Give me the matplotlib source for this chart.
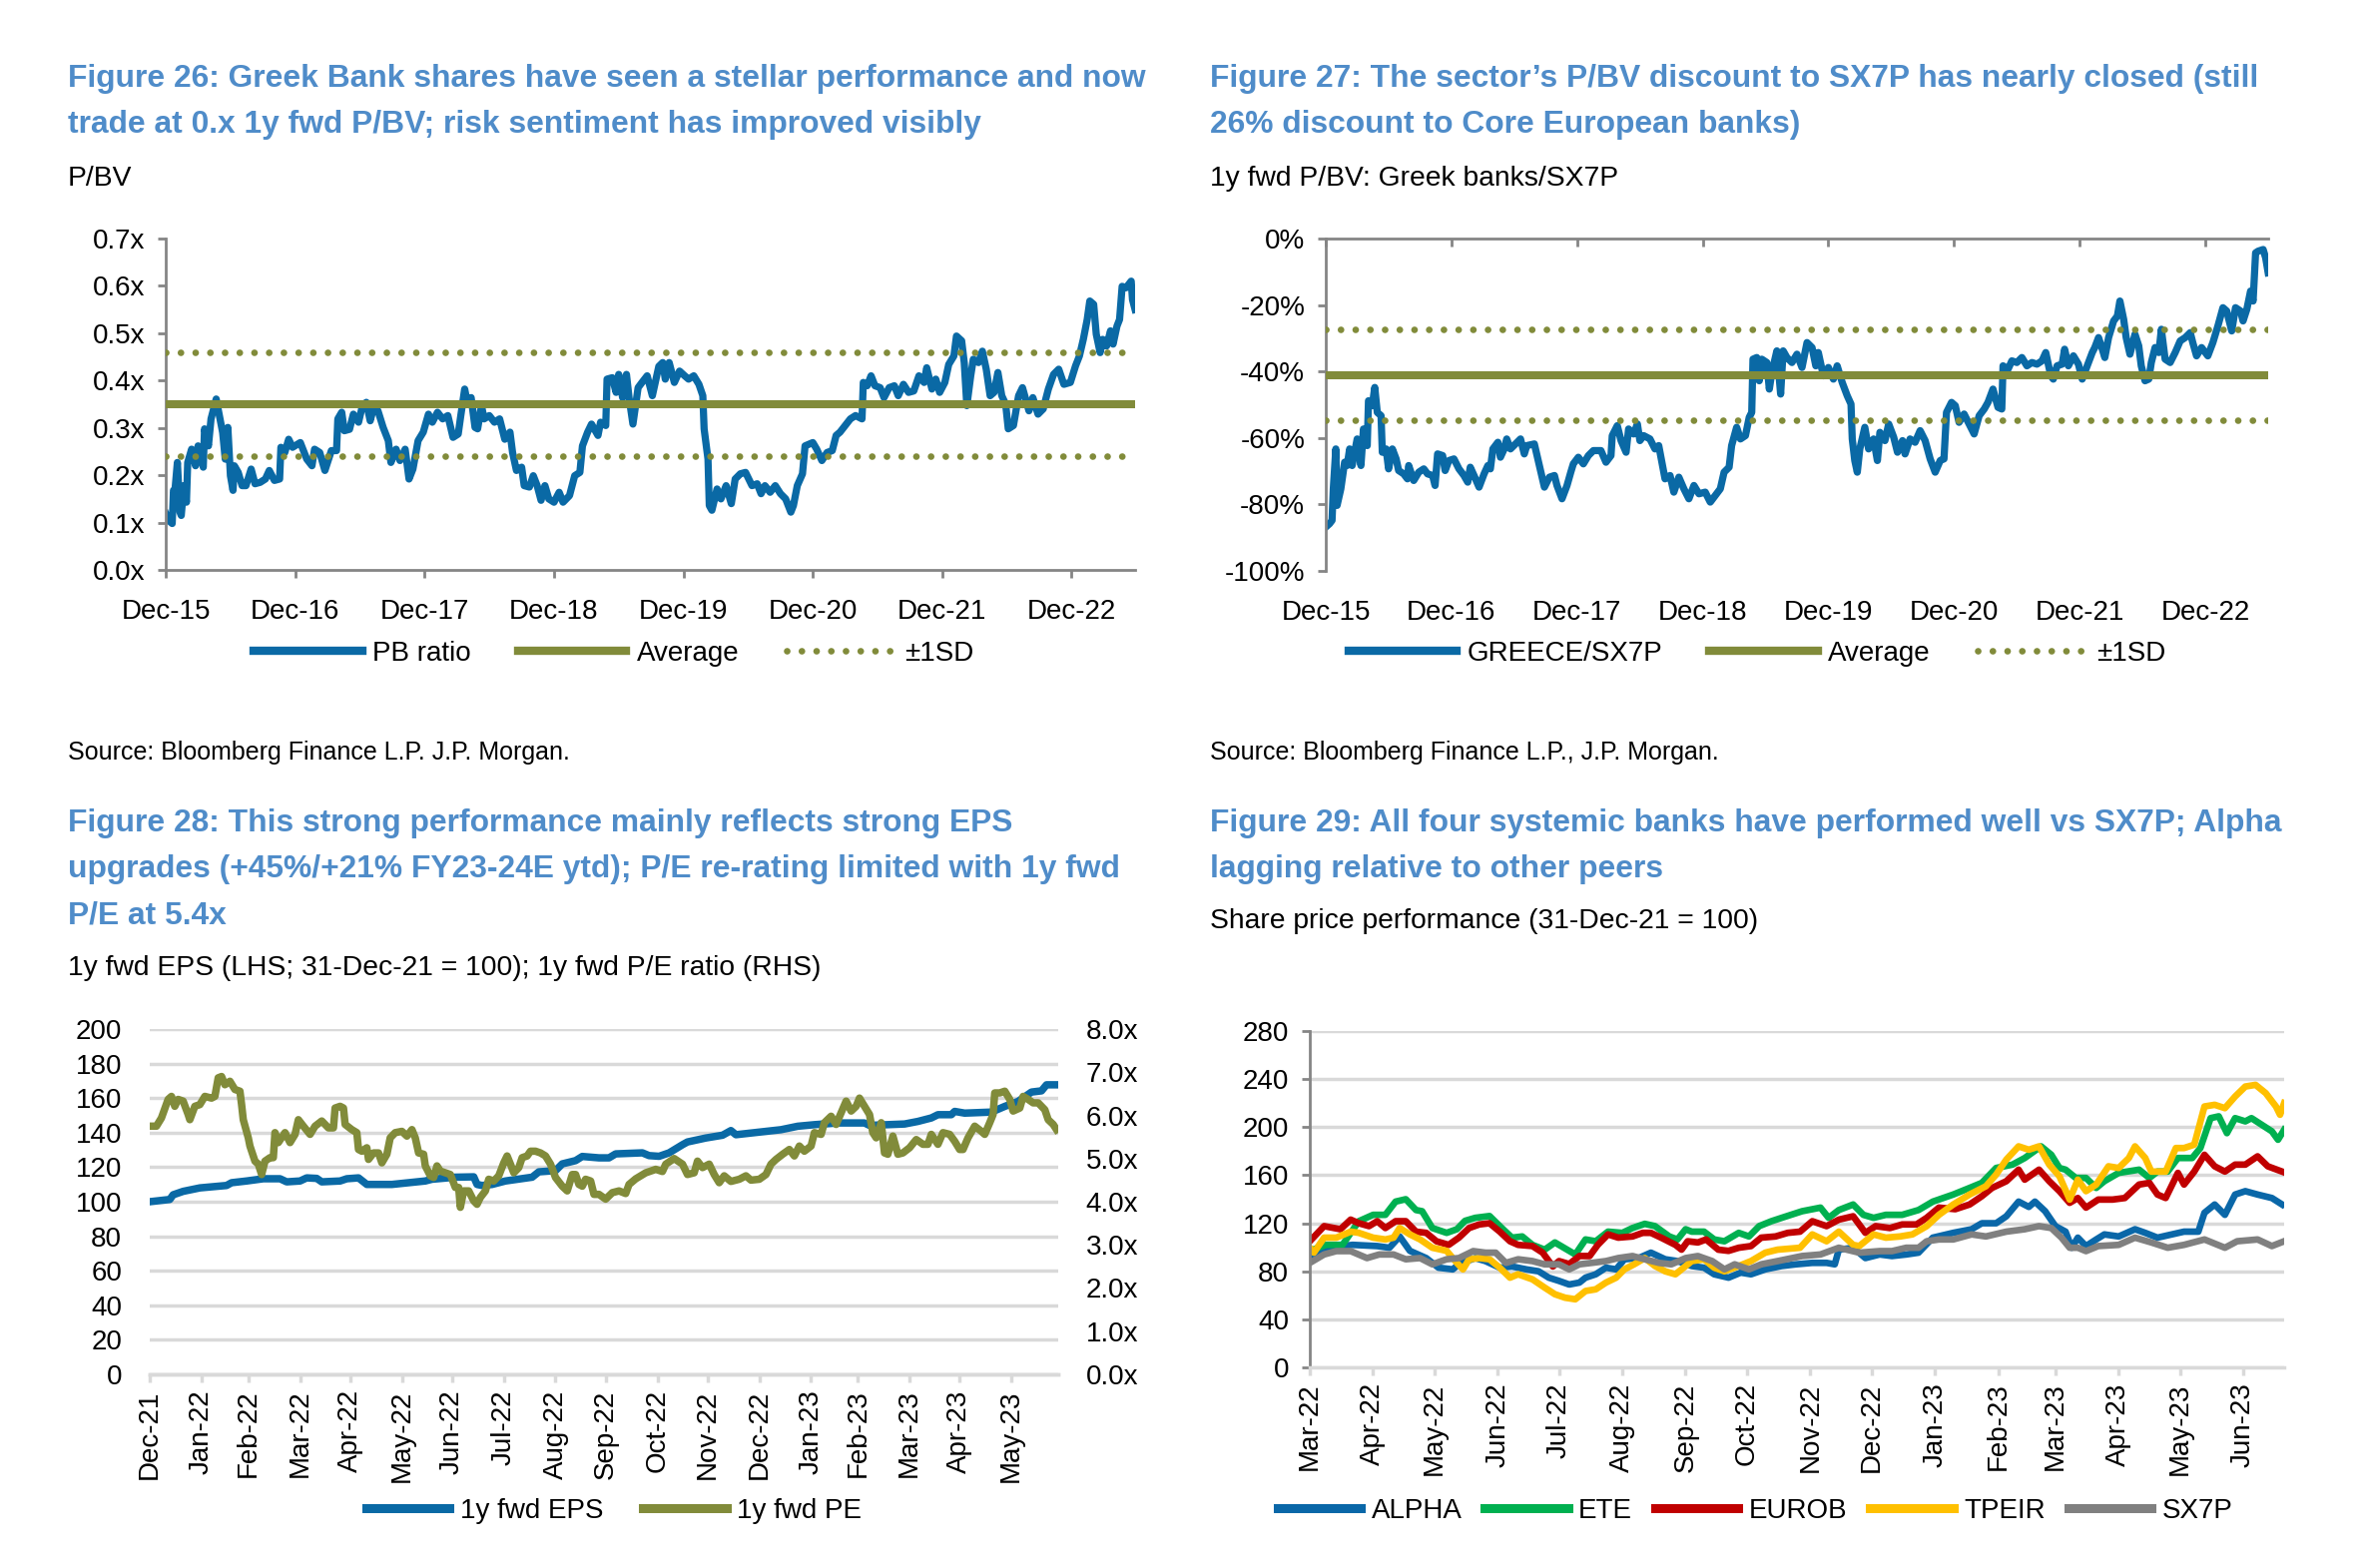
import numpy as np
import matplotlib
matplotlib.use("Agg")
import matplotlib.pyplot as plt
from matplotlib.lines import Line2D

plt.rcParams['font.family'] = ['Liberation Sans', 'DejaVu Sans']

BLUE = '#0a69a5'
OLIVE = '#818b3a'
TITLE_BLUE = '#4f8cc9'
AXIS_GREY = '#858585'
GRID_GREY = '#d9d9d9'

# ---------------- data ----------------
# Fig 26: 1y fwd P/BV of Greek banks (decimal year, P/BV)
pb_ratio = [
    (2015.92, .119), (2015.94, .105), (2015.97, .098), (2015.98, .168), (2015.99, .164), (2016.01, .227),
    (2016.03, .122), (2016.04, .115), (2016.06, .178), (2016.08, .143), (2016.09, .227), (2016.12, .255),
    (2016.15, .22), (2016.17, .262), (2016.21, .217), (2016.22, .298), (2016.25, .262), (2016.27, .319),
    (2016.31, .361), (2016.34, .319), (2016.36, .29), (2016.38, .234), (2016.40, .301), (2016.42, .199),
    (2016.44, .168), (2016.45, .22), (2016.48, .206), (2016.51, .178), (2016.54, .178), (2016.58, .213),
    (2016.61, .182), (2016.65, .185), (2016.69, .192), (2016.72, .21), (2016.76, .189), (2016.80, .192),
    (2016.81, .259), (2016.84, .248), (2016.87, .276), (2016.90, .259), (2016.96, .269), (2017.01, .234),
    (2017.05, .22), (2017.07, .255), (2017.11, .248), (2017.15, .21), (2017.20, .252), (2017.24, .252),
    (2017.25, .319), (2017.28, .333), (2017.30, .294), (2017.34, .297), (2017.37, .329), (2017.41, .312),
    (2017.44, .347), (2017.47, .354), (2017.50, .315), (2017.52, .336), (2017.56, .336), (2017.60, .301),
    (2017.64, .273), (2017.66, .227), (2017.70, .255), (2017.73, .231), (2017.77, .255), (2017.80, .192),
    (2017.83, .213), (2017.87, .273), (2017.91, .291), (2017.95, .329), (2017.98, .312), (2018.02, .333),
    (2018.06, .319), (2018.10, .326), (2018.14, .280), (2018.18, .287), (2018.20, .326), (2018.23, .382),
    (2018.25, .354), (2018.28, .364), (2018.31, .301), (2018.33, .298), (2018.36, .347), (2018.38, .319),
    (2018.42, .326), (2018.46, .312), (2018.50, .319), (2018.54, .276), (2018.58, .291), (2018.60, .248),
    (2018.63, .21), (2018.67, .217), (2018.69, .178), (2018.73, .175), (2018.76, .199), (2018.79, .178),
    (2018.82, .147), (2018.85, .178), (2018.88, .150), (2018.92, .143), (2018.96, .164), (2018.99, .143),
    (2019.04, .157), (2019.08, .199), (2019.12, .206), (2019.14, .262), (2019.18, .291), (2019.21, .308),
    (2019.26, .284), (2019.28, .312), (2019.32, .305), (2019.33, .403), (2019.37, .406), (2019.40, .375),
    (2019.42, .413), (2019.45, .364), (2019.48, .413), (2019.50, .364), (2019.53, .308), (2019.57, .385),
    (2019.60, .396), (2019.64, .41), (2019.68, .368), (2019.73, .43), (2019.76, .438), (2019.78, .403),
    (2019.81, .438), (2019.85, .396), (2019.89, .42), (2019.93, .41), (2019.96, .403), (2020.00, .41),
    (2020.04, .392), (2020.07, .368), (2020.08, .298), (2020.11, .234), (2020.12, .136), (2020.14, .126),
    (2020.18, .171), (2020.21, .150), (2020.25, .178), (2020.29, .140), (2020.32, .192), (2020.36, .203),
    (2020.40, .206), (2020.45, .178), (2020.49, .182), (2020.52, .161), (2020.55, .178), (2020.59, .164),
    (2020.63, .178), (2020.67, .161), (2020.71, .150), (2020.75, .122), (2020.77, .136), (2020.80, .178),
    (2020.84, .203), (2020.86, .262), (2020.92, .269), (2020.95, .255), (2020.99, .231), (2021.03, .248),
    (2021.07, .252), (2021.10, .284), (2021.13, .291), (2021.17, .305), (2021.21, .319), (2021.25, .326),
    (2021.30, .319), (2021.31, .396), (2021.34, .389), (2021.37, .41), (2021.40, .389), (2021.44, .385),
    (2021.47, .364), (2021.51, .385), (2021.55, .389), (2021.58, .368), (2021.62, .392), (2021.66, .375),
    (2021.70, .378), (2021.74, .41), (2021.78, .396), (2021.80, .427), (2021.84, .382), (2021.87, .403),
    (2021.90, .375), (2021.94, .396), (2021.97, .434), (2022.01, .452), (2022.03, .494), (2022.07, .484),
    (2022.09, .438), (2022.11, .347), (2022.14, .41), (2022.16, .445), (2022.20, .438), (2022.23, .462),
    (2022.26, .424), (2022.29, .368), (2022.32, .375), (2022.35, .417), (2022.38, .368), (2022.41, .35),
    (2022.43, .298), (2022.47, .305), (2022.51, .368), (2022.54, .385), (2022.59, .336), (2022.62, .364),
    (2022.66, .329), (2022.70, .34), (2022.74, .382), (2022.78, .413), (2022.82, .424), (2022.86, .392),
    (2022.91, .396), (2022.95, .431), (2022.98, .452), (2023.01, .487), (2023.04, .529), (2023.06, .568),
    (2023.09, .561), (2023.11, .498), (2023.14, .459), (2023.16, .487), (2023.19, .473), (2023.22, .505),
    (2023.24, .477), (2023.27, .515), (2023.29, .529), (2023.31, .599), (2023.34, .596), (2023.38, .61),
    (2023.39, .571), (2023.41, .55),
]
pb_avg, pb_sd = 0.35, 0.11

# Fig 27: Greek banks / SX7P P/BV discount (decimal year, %)
greece_sx7p = [
    (2015.92, -86.8), (2015.95, -85.8), (2015.97, -84.8), (2015.98, -75.3), (2016.00, -63.3), (2016.01, -80.3),
    (2016.04, -75.3), (2016.07, -67.3), (2016.09, -68.3), (2016.11, -63.3), (2016.13, -68.3), (2016.17, -60.3),
    (2016.20, -68.3), (2016.22, -57.3), (2016.25, -62.3), (2016.26, -48.8), (2016.29, -50.3), (2016.31, -44.8),
    (2016.33, -52.3), (2016.36, -53.3), (2016.37, -64.3), (2016.40, -63.3), (2016.42, -69.3), (2016.45, -63.3),
    (2016.48, -66.3), (2016.50, -69.8), (2016.54, -70.8), (2016.57, -72.3), (2016.58, -68.3), (2016.62, -72.8),
    (2016.66, -70.3), (2016.70, -69.3), (2016.73, -70.8), (2016.77, -71.3), (2016.79, -74.3), (2016.81, -64.8),
    (2016.85, -65.3), (2016.87, -69.8), (2016.90, -66.8), (2016.94, -66.3), (2016.98, -69.3), (2017.02, -71.3),
    (2017.05, -73.3), (2017.07, -68.8), (2017.10, -71.3), (2017.14, -74.8), (2017.18, -70.8), (2017.21, -68.3),
    (2017.23, -69.3), (2017.25, -63.3), (2017.29, -61.3), (2017.31, -65.8), (2017.34, -63.3), (2017.36, -60.3),
    (2017.39, -63.3), (2017.43, -61.8), (2017.47, -60.3), (2017.50, -64.8), (2017.52, -62.3), (2017.58, -61.8),
    (2017.62, -68.3), (2017.66, -74.8), (2017.70, -71.8), (2017.74, -71.3), (2017.76, -74.3), (2017.80, -78.3),
    (2017.84, -74.3), (2017.87, -70.3), (2017.89, -67.8), (2017.93, -65.8), (2017.97, -67.8), (2018.01, -65.3),
    (2018.05, -63.8), (2018.11, -63.8), (2018.15, -67.3), (2018.19, -65.3), (2018.20, -59.3), (2018.24, -56.3),
    (2018.27, -60.8), (2018.31, -64.3), (2018.33, -57.3), (2018.37, -58.8), (2018.40, -55.8), (2018.42, -60.8),
    (2018.45, -59.3), (2018.50, -60.3), (2018.54, -63.3), (2018.57, -62.3), (2018.60, -68.3), (2018.62, -72.3),
    (2018.66, -71.3), (2018.69, -76.3), (2018.73, -71.8), (2018.77, -75.3), (2018.81, -78.3), (2018.85, -74.3),
    (2018.89, -76.8), (2018.94, -76.3), (2018.98, -79.3), (2019.02, -77.3), (2019.06, -75.3), (2019.09, -70.3),
    (2019.13, -68.8), (2019.15, -62.3), (2019.19, -56.8), (2019.22, -60.3), (2019.26, -59.3), (2019.29, -53.8),
    (2019.31, -52.3), (2019.32, -36.3), (2019.35, -35.8), (2019.37, -42.8), (2019.39, -36.3), (2019.43, -37.3),
    (2019.45, -45.3), (2019.47, -40.3), (2019.51, -33.8), (2019.54, -46.8), (2019.56, -33.8), (2019.59, -35.8),
    (2019.63, -37.3), (2019.67, -34.8), (2019.71, -38.8), (2019.75, -31.3), (2019.79, -32.8), (2019.82, -38.3),
    (2019.84, -34.3), (2019.88, -41.3), (2019.92, -38.8), (2019.96, -42.3), (2019.99, -38.3), (2020.03, -43.3),
    (2020.07, -47.3), (2020.10, -49.8), (2020.11, -60.3), (2020.13, -66.8), (2020.15, -70.3), (2020.17, -63.3),
    (2020.21, -56.8), (2020.24, -63.3), (2020.28, -60.3), (2020.31, -66.8), (2020.33, -58.3), (2020.37, -60.8),
    (2020.40, -55.8), (2020.44, -59.8), (2020.47, -64.3), (2020.51, -60.8), (2020.53, -64.8), (2020.57, -60.3),
    (2020.61, -61.3), (2020.65, -57.8), (2020.69, -60.8), (2020.73, -66.3), (2020.77, -70.3), (2020.81, -66.8),
    (2020.84, -66.3), (2020.86, -52.3), (2020.90, -49.3), (2020.93, -50.3), (2020.96, -55.3), (2021.00, -52.8),
    (2021.04, -55.8), (2021.08, -58.8), (2021.12, -53.3), (2021.16, -51.3), (2021.19, -49.3), (2021.23, -45.3),
    (2021.27, -50.8), (2021.30, -51.3), (2021.31, -38.3), (2021.35, -39.3), (2021.38, -36.8), (2021.42, -37.3),
    (2021.46, -35.8), (2021.50, -38.3), (2021.54, -37.3), (2021.58, -37.8), (2021.62, -36.8), (2021.65, -34.3),
    (2021.69, -41.3), (2021.71, -42.3), (2021.74, -38.3), (2021.78, -37.8), (2021.80, -33.3), (2021.83, -38.3),
    (2021.87, -35.3), (2021.91, -37.8), (2021.94, -42.3), (2021.98, -38.3), (2022.02, -34.3), (2022.04, -32.8),
    (2022.07, -29.8), (2022.10, -33.3), (2022.12, -35.8), (2022.15, -29.8), (2022.19, -24.8), (2022.22, -23.3),
    (2022.24, -18.8), (2022.27, -24.3), (2022.29, -29.8), (2022.32, -34.8), (2022.36, -28.8), (2022.39, -32.3),
    (2022.41, -38.3), (2022.44, -42.8), (2022.47, -42.3), (2022.49, -37.3), (2022.52, -32.8), (2022.55, -34.3),
    (2022.57, -27.3), (2022.60, -36.3), (2022.64, -37.3), (2022.68, -34.3), (2022.72, -30.8), (2022.76, -29.8),
    (2022.80, -28.3), (2022.82, -31.3), (2022.85, -35.3), (2022.89, -32.8), (2022.94, -35.3), (2022.98, -31.3),
    (2023.02, -26.3), (2023.06, -20.8), (2023.09, -21.8), (2023.13, -27.8), (2023.16, -20.8), (2023.20, -21.8),
    (2023.22, -24.8), (2023.25, -21.3), (2023.28, -15.8), (2023.30, -18.8), (2023.32, -4.3), (2023.34, -3.8),
    (2023.38, -3.3), (2023.40, -5.8), (2023.42, -10.3),
]
gr_avg, gr_sd = -41.0, 13.8

year_labels = ['Dec-15', 'Dec-16', 'Dec-17', 'Dec-18', 'Dec-19', 'Dec-20', 'Dec-21', 'Dec-22']

# Fig 28: (days after 31-Dec-21, value)
fwd_eps = [
    (0, 100), (12, 101.3), (14, 104), (20, 106), (30, 108), (46, 109.4), (49, 111), (58, 112), (68, 113.3),
    (78, 113.3), (82, 111.5), (90, 112), (94, 113.8), (100, 113.5), (103, 111.5), (114, 112), (118, 113.3),
    (125, 113.8), (130, 110), (145, 110), (165, 112), (169, 113), (183, 114.2), (194, 114.4), (196, 110),
    (199, 109.4), (205, 110), (213, 112), (229, 114.2), (233, 117.3), (243, 118), (247, 121.9), (255, 123.8),
    (259, 126.2), (269, 125.4), (275, 125.4), (279, 127.7), (295, 128.3), (299, 126.7), (305, 126.3),
    (311, 128.3), (319, 133), (322, 134.6), (333, 136.9), (343, 138.5), (348, 141.2), (351, 138.8),
    (378, 141.7), (388, 143.7), (398, 144.6), (412, 145.6), (428, 145.6), (431, 144.2), (452, 145),
    (460, 146.5), (468, 148.5), (472, 150.4), (480, 150.4), (482, 152.3), (488, 151.3), (504, 151.9),
    (512, 155.2), (520, 158.1), (528, 163.5), (534, 164.2), (537, 167.7), (544, 167.7),
]
fwd_pe = [
    (0, 5.75), (4, 5.75), (7, 5.94), (11, 6.37), (13, 6.44), (15, 6.21), (17, 6.37), (20, 6.33), (23, 6.02),
    (24, 5.90), (27, 6.21), (30, 6.25), (33, 6.44), (37, 6.40), (39, 6.44), (41, 6.87), (43, 6.90), (45, 6.71),
    (48, 6.79), (51, 6.60), (54, 6.56), (55, 6.25), (56, 5.90), (59, 5.48), (60, 5.29), (63, 4.94), (65, 4.87),
    (67, 4.63), (69, 4.94), (72, 5.02), (74, 5.02), (75, 5.60), (77, 5.37), (81, 5.60), (84, 5.37), (87, 5.56),
    (89, 5.90), (92, 5.75), (96, 5.56), (99, 5.75), (103, 5.87), (107, 5.71), (110, 5.71), (111, 6.17),
    (114, 6.21), (116, 6.17), (117, 5.79), (121, 5.67), (124, 5.60), (125, 5.21), (127, 5.17), (130, 5.25),
    (131, 4.98), (134, 5.13), (137, 5.13), (139, 4.90), (142, 5.10), (144, 5.48), (147, 5.60), (151, 5.63),
    (154, 5.52), (157, 5.67), (159, 5.48), (161, 5.13), (164, 5.10), (165, 4.83), (168, 4.60), (170, 4.56),
    (172, 4.83), (174, 4.71), (177, 4.67), (180, 4.63), (183, 4.33), (185, 4.33), (186, 3.87), (188, 4.25),
    (191, 4.25), (194, 4.02), (196, 3.94), (198, 4.10), (201, 4.25), (203, 4.52), (206, 4.48), (209, 4.60),
    (212, 4.90), (214, 5.06), (216, 4.87), (218, 4.67), (221, 4.79), (223, 5.02), (226, 5.06), (228, 5.17),
    (231, 5.17), (234, 5.13), (237, 5.06), (240, 4.87), (243, 4.56), (247, 4.36), (250, 4.25), (253, 4.63),
    (255, 4.63), (257, 4.40), (259, 4.36), (261, 4.52), (264, 4.48), (266, 4.17), (269, 4.17), (273, 4.06),
    (277, 4.21), (281, 4.25), (285, 4.19), (287, 4.40), (291, 4.53), (297, 4.67), (303, 4.75), (307, 4.70),
    (309, 4.87), (314, 5.00), (319, 4.87), (322, 4.63), (326, 4.67), (328, 4.94), (331, 4.79), (335, 4.87),
    (338, 4.63), (341, 4.44), (344, 4.60), (348, 4.47), (353, 4.52), (357, 4.60), (360, 4.50), (365, 4.52),
    (369, 4.63), (372, 4.87), (375, 4.98), (379, 5.10), (383, 5.21), (386, 5.06), (389, 5.29), (392, 5.17),
    (396, 5.29), (398, 5.60), (402, 5.56), (404, 5.83), (408, 5.98), (411, 5.79), (414, 6.06), (417, 6.33),
    (420, 6.10), (423, 6.21), (425, 6.40), (428, 6.21), (431, 6.02), (433, 5.60), (435, 5.48), (438, 5.83),
    (440, 5.13), (442, 5.10), (445, 5.52), (448, 5.10), (451, 5.13), (455, 5.25), (459, 5.44), (463, 5.33),
    (466, 5.33), (468, 5.56), (472, 5.33), (475, 5.60), (479, 5.56), (482, 5.40), (485, 5.21), (487, 5.21),
    (490, 5.48), (494, 5.75), (498, 5.63), (500, 5.56), (503, 5.83), (505, 6.02), (506, 6.52), (509, 6.52),
    (512, 6.56), (515, 6.37), (517, 6.10), (521, 6.17), (523, 6.44), (526, 6.37), (529, 6.29), (532, 6.29),
    (536, 6.13), (538, 5.90), (541, 5.79), (543, 5.67),
]
month_labels_28 = ['Dec-21', 'Jan-22', 'Feb-22', 'Mar-22', 'Apr-22', 'May-22', 'Jun-22', 'Jul-22', 'Aug-22',
                   'Sep-22', 'Oct-22', 'Nov-22', 'Dec-22', 'Jan-23', 'Feb-23', 'Mar-23', 'Apr-23', 'May-23']

# Fig 29: share prices, 31-Dec-21 = 100 (days after 1-Mar-22, index)
alpha = [
    (0, 92.7), (8, 99.6), (21, 102), (33, 101), (39, 99.6), (44, 109), (49, 97), (57, 91), (63, 83), (70, 81.6),
    (73, 86), (81, 91), (86, 88.5), (93, 83), (99, 84), (106, 81.6), (112, 80), (117, 74.7), (122, 72),
    (127, 69), (132, 70.6), (135, 74.7), (140, 77.5), (145, 83), (150, 81.6), (154, 90), (161, 91), (167, 95.5),
    (174, 90), (180, 88.5), (187, 84.4), (193, 83), (198, 77.5), (205, 74.7), (211, 78.9), (216, 77.5),
    (223, 81.6), (231, 84.4), (238, 85.8), (246, 87), (253, 87), (257, 85.8), (259, 98), (266, 99.6), (272, 91),
    (279, 94), (285, 92.7), (292, 94), (298, 95.5), (305, 108), (315, 112), (324, 115), (329, 120), (336, 120),
    (341, 125.8), (347, 138), (352, 133.6), (355, 138), (360, 130), (365, 117.6), (370, 113), (373, 99.6),
    (376, 108), (380, 101), (385, 106.5), (389, 110.7), (396, 109), (404, 115), (409, 112), (415, 108),
    (422, 110.7), (428, 113), (435, 113), (438, 128.7), (443, 135.6), (448, 127), (453, 143.9), (458, 146.7),
    (464, 143.9), (471, 141), (476, 135.6),
]
ete = [
    (0, 97), (8, 102), (16, 102), (24, 121.7), (31, 127), (37, 127), (42, 138), (47, 140), (52, 131), (55, 130),
    (60, 116), (67, 112), (72, 115), (76, 122), (81, 124.5), (88, 126), (94, 116), (99, 108), (104, 109),
    (109, 102), (115, 98), (120, 104), (127, 97), (130, 94), (135, 106.5), (140, 105), (146, 113), (153, 112),
    (158, 116), (164, 119.5), (169, 117.6), (176, 109), (180, 106.5), (184, 115), (187, 113), (193, 113),
    (198, 106.5), (203, 105), (210, 112), (215, 109), (220, 117.6), (226, 121.7), (231, 124.5), (241, 130),
    (250, 133), (254, 124.5), (259, 131), (266, 135.6), (271, 127), (276, 124.5), (282, 127), (290, 127),
    (298, 131), (305, 138), (315, 143.9), (323, 149.4), (329, 153.6), (336, 166), (344, 168.8), (350, 174.3),
    (358, 184), (363, 177), (367, 166), (370, 164.6), (375, 157.7), (380, 157.7), (385, 149.4), (389, 155),
    (396, 161.9), (406, 164.6), (411, 157.7), (415, 163), (420, 163), (425, 174.3), (432, 174.3),
    (436, 182.6), (441, 207.5), (445, 209), (449, 195), (453, 207.5), (458, 204.8), (461, 207.5), (466, 202),
    (471, 196.5), (474, 189.5), (477, 197.8),
]
eurob = [
    (0, 105), (7, 117.6), (15, 115), (20, 123), (24, 120), (29, 117.6), (33, 121.7), (37, 116), (42, 121.7),
    (47, 121.7), (52, 113), (57, 112), (62, 105), (68, 102), (73, 108), (78, 116), (83, 119), (88, 120),
    (93, 113), (98, 105), (102, 102), (109, 101), (114, 95.5), (119, 84), (122, 88.5), (127, 86), (132, 92.7),
    (137, 92.7), (141, 102), (146, 110.7), (151, 108), (158, 109), (163, 112), (167, 112), (172, 108),
    (179, 102), (182, 98), (185, 105), (190, 104), (194, 106.5), (200, 98), (205, 97), (210, 99.6), (216, 101),
    (221, 108), (228, 109), (234, 112), (240, 113), (246, 121.7), (253, 117.6), (259, 123), (266, 125.8),
    (272, 112), (277, 117.6), (284, 116), (290, 119), (297, 119), (302, 124.5), (308, 133), (316, 131.7),
    (323, 135.6), (329, 142.5), (334, 149.4), (341, 155), (347, 164.6), (350, 156.3), (357, 164.6), (362, 155),
    (367, 146.7), (372, 137), (376, 141), (380, 133), (386, 139.7), (393, 139.7), (399, 141), (406, 152.2),
    (411, 153.6), (415, 143.9), (419, 141), (425, 161.9), (428, 152.2), (433, 163), (438, 177), (443, 167.4),
    (448, 163), (453, 168.8), (458, 168.8), (464, 175.7), (469, 167.4), (476, 163),
]
tpeir = [
    (0, 99.6), (2, 95.5), (7, 108), (13, 108), (20, 113), (24, 112), (31, 108), (37, 106.5), (41, 108),
    (44, 116), (49, 110.7), (54, 106.5), (60, 99.6), (67, 97), (72, 87), (75, 81.6), (78, 90), (83, 91),
    (88, 90), (93, 83), (98, 74.7), (102, 77.5), (109, 73.3), (115, 66.4), (120, 60.9), (125, 58), (130, 56.7),
    (135, 63.6), (140, 65), (145, 70.6), (150, 74.7), (154, 81.6), (159, 86), (164, 91), (169, 84.4), (174, 80),
    (179, 77.5), (182, 81.6), (187, 88.5), (193, 90), (198, 83), (203, 80), (210, 84.4), (216, 88.5),
    (223, 95.5), (229, 98), (240, 99.6), (246, 110.7), (253, 105), (259, 113), (266, 102), (269, 101),
    (276, 110.7), (282, 108), (289, 109), (295, 110.7), (302, 117.6), (308, 127), (315, 135.6), (323, 143.9),
    (331, 150.8), (336, 160.5), (341, 173), (347, 184), (352, 181.2), (357, 184), (362, 168.8), (367, 159.1),
    (372, 139.7), (376, 156.3), (380, 146.7), (385, 152.2), (391, 167.4), (396, 166), (401, 174.3), (404, 184),
    (409, 174.3), (412, 163), (419, 163), (424, 182.6), (428, 182.6), (433, 185.4), (438, 217.2), (443, 218.6),
    (448, 215.8), (453, 225.5), (458, 233.8), (463, 235.2), (468, 228.3), (473, 217.2), (475, 210.3),
    (477, 220),
]
sx7p = [
    (0, 87), (7, 94), (13, 96.8), (20, 96.8), (28, 91), (34, 94), (41, 94), (47, 90), (54, 91), (60, 85.8),
    (67, 90), (73, 91), (80, 96.8), (86, 95.5), (91, 95.5), (96, 87), (102, 90), (109, 88.5), (115, 85.8),
    (122, 85.8), (127, 81.6), (132, 85.8), (138, 87), (145, 88.5), (151, 91), (158, 92.7), (164, 90), (171, 87),
    (177, 85.8), (184, 91), (190, 92.7), (197, 88.5), (203, 81.6), (208, 85.8), (215, 81.6), (221, 85.8),
    (229, 88.5), (241, 92.7), (250, 94), (259, 99.6), (269, 95.5), (279, 96.8), (285, 96.8), (292, 99.6),
    (298, 99.6), (302, 105), (308, 106.5), (315, 106.5), (324, 110.7), (331, 109), (341, 113), (350, 115),
    (357, 117.6), (363, 116), (368, 108), (372, 99.6), (376, 99.6), (380, 96.8), (386, 101), (396, 102),
    (404, 108), (412, 104), (420, 99.6), (428, 102), (438, 106.5), (448, 99.6), (454, 105), (464, 106.5),
    (471, 101), (477, 105),
]
bank_names = ['ALPHA', 'ETE', 'EUROB', 'TPEIR', 'SX7P']
bank_colors = ['#0a67a8', '#00b050', '#c00000', '#ffc000', '#808080']
month_labels_29 = ['Mar-22', 'Apr-22', 'May-22', 'Jun-22', 'Jul-22', 'Aug-22', 'Sep-22', 'Oct-22', 'Nov-22',
                   'Dec-22', 'Jan-23', 'Feb-23', 'Mar-23', 'Apr-23', 'May-23', 'Jun-23']

# ---------------- figure ----------------
W, H = 2373, 1571
fig = plt.figure(figsize=(W / 100, H / 100), dpi=100)


def box(l, t, r, b):
    return [l / W, 1 - b / H, (r - l) / W, (b - t) / H]


def ftext(x, y, s, **kw):
    fig.text(x / W, 1 - y / H, s, **kw)


def to_dates(start, days):
    return np.datetime64(start) + np.array(days).astype('timedelta64[D]')


TITLE_FS = 22.9
SUB_FS = 20.3
TICK_FS = 20
SRC_FS = 18
dot_style = dict(linestyle=(0, (0.01, 2.2)), dash_capstyle='round', lw=4.8, color=OLIVE)

# titles
title_kw = dict(color=TITLE_BLUE, fontsize=TITLE_FS, fontweight='bold', va='center')
ftext(68, 79, 'Figure 26: Greek Bank shares have seen a stellar performance and now', **title_kw)
ftext(68, 125, 'trade at 0.x 1y fwd P/BV; risk sentiment has improved visibly', **title_kw)
ftext(68, 179, 'P/BV', fontsize=SUB_FS, va='center')
ftext(1212, 79, 'Figure 27: The sector\u2019s P/BV discount to SX7P has nearly closed (still', **title_kw)
ftext(1212, 125, '26% discount to Core European banks)', **title_kw)
ftext(1212, 179, '1y fwd P/BV: Greek banks/SX7P', fontsize=SUB_FS, va='center')
ftext(68, 754, 'Source: Bloomberg Finance L.P. J.P. Morgan.', fontsize=SRC_FS, va='center')
ftext(1212, 754, 'Source: Bloomberg Finance L.P., J.P. Morgan.', fontsize=SRC_FS, va='center')

for i, line in enumerate(['Figure 28: This strong performance mainly reflects strong EPS',
                          'upgrades (+45%/+21% FY23-24E ytd); P/E re-rating limited with 1y fwd',
                          'P/E at 5.4x']):
    ftext(68, 825 + 46 * i, line, **title_kw)
ftext(68, 970, '1y fwd EPS (LHS; 31-Dec-21 = 100); 1y fwd P/E ratio (RHS)', fontsize=SUB_FS, va='center')
for i, line in enumerate(['Figure 29: All four systemic banks have performed well vs SX7P; Alpha',
                          'lagging relative to other peers']):
    ftext(1212, 825 + 46 * i, line, **title_kw)
ftext(1212, 923, 'Share price performance (31-Dec-21 = 100)', fontsize=SUB_FS, va='center')

# ---- Fig 26 ----
ax1 = fig.add_axes(box(166, 239, 1137, 571))
x1, y1 = zip(*pb_ratio)
ax1.plot(x1, y1, color=BLUE, lw=5.2, zorder=2)
ax1.axhline(pb_avg, color=OLIVE, lw=5.8, zorder=3)
ax1.axhline(pb_avg + pb_sd, zorder=4, **dot_style)
ax1.axhline(pb_avg - pb_sd, zorder=4, **dot_style)
ax1.set_xlim(2015.92, 2023.41)
ax1.set_ylim(0, 0.7)
ax1.set_yticks(np.arange(0, 0.71, 0.1))
ax1.set_yticklabels([f'{v:.1f}x' for v in np.arange(0, 0.71, 0.1)])
ax1.set_xticks(np.arange(len(year_labels)) + 2015.92)
ax1.set_xticklabels(year_labels)
for s in ['top', 'right']:
    ax1.spines[s].set_visible(False)
for s in ['left', 'bottom']:
    ax1.spines[s].set_color(AXIS_GREY)
    ax1.spines[s].set_linewidth(2)
ax1.tick_params(axis='both', colors=AXIS_GREY, labelcolor='black', labelsize=TICK_FS, length=6, width=2)
ax1.tick_params(axis='y', pad=9)
ax1.tick_params(axis='x', pad=15)
h1 = [Line2D([], [], color=BLUE, lw=6), Line2D([], [], color=OLIVE, lw=6), Line2D([], [], **dot_style)]
leg_kw = dict(loc='center', bbox_transform=fig.transFigure, frameon=False, fontsize=TICK_FS)
ax1.legend(h1, ['PB ratio', 'Average', '\u00b11SD'], bbox_to_anchor=(615 / W, 1 - 655 / H), ncol=3,
           handlelength=3.9, handletextpad=0.38, columnspacing=1.7, **leg_kw)

# ---- Fig 27 ----
ax2 = fig.add_axes(box(1328, 239, 2272, 572))
x2, y2 = zip(*greece_sx7p)
ax2.plot(x2, y2, color=BLUE, lw=5.2, zorder=2)
ax2.axhline(gr_avg, color=OLIVE, lw=5.8, zorder=3)
ax2.axhline(gr_avg + gr_sd, zorder=4, **dot_style)
ax2.axhline(gr_avg - gr_sd, zorder=4, **dot_style)
ax2.set_xlim(2015.92, 2023.42)
ax2.set_ylim(-100, 0)
ax2.set_yticks(np.arange(-100, 1, 20))
ax2.set_yticklabels([f'{v}%' for v in range(-100, 1, 20)])
ax2.set_xticks(np.arange(len(year_labels)) + 2015.92)
ax2.set_xticklabels(year_labels)
for s in ['bottom', 'right']:
    ax2.spines[s].set_visible(False)
for s in ['left', 'top']:
    ax2.spines[s].set_color(AXIS_GREY)
    ax2.spines[s].set_linewidth(2)
ax2.tick_params(axis='both', colors=AXIS_GREY, labelcolor='black', labelsize=TICK_FS, length=6, width=2)
ax2.tick_params(axis='y', pad=9)
ax2.tick_params(axis='x', top=True, bottom=False, labeltop=False, labelbottom=True, direction='in', pad=21)
ax2.legend(h1, ['GREECE/SX7P', 'Average', '\u00b11SD'], bbox_to_anchor=(1760 / W, 1 - 655 / H), ncol=3,
           handlelength=3.9, handletextpad=0.38, columnspacing=1.7, **leg_kw)

# ---- Fig 28 ----
ax3 = fig.add_axes(box(150, 1031, 1060, 1377))
d_eps, v_eps = zip(*fwd_eps)
d_pe, v_pe = zip(*fwd_pe)
ax3.plot(to_dates('2021-12-31', d_eps), v_eps, color=BLUE, lw=5.4, zorder=3)
ax3b = ax3.twinx()
ax3b.plot(to_dates('2021-12-31', d_pe), v_pe, color=OLIVE, lw=5.4, zorder=3)
ax3.set_ylim(0, 200)
ax3.set_yticks(np.arange(0, 201, 20))
ax3b.set_ylim(0, 8)
ax3b.set_yticks(np.arange(0, 9))
ax3b.set_yticklabels([f'{v:.1f}x' for v in range(9)])
ticks28 = np.array([np.datetime64('2021-12') + np.timedelta64(k + 1, 'M') for k in range(len(month_labels_28))],
                   dtype='datetime64[D]') - np.timedelta64(1, 'D')
ax3.set_xticks(ticks28)
ax3.set_xticklabels(month_labels_28, rotation=90)
ax3.set_xlim(np.datetime64('2021-12-31'), np.datetime64('2021-12-31') + np.timedelta64(544, 'D'))
ax3.grid(axis='y', color=GRID_GREY, lw=2.5)
ax3.set_axisbelow(True)
for a in (ax3, ax3b):
    for s in ['top', 'right', 'left']:
        a.spines[s].set_visible(False)
    a.spines['bottom'].set_color(GRID_GREY)
    a.spines['bottom'].set_linewidth(2.5)
ax3.tick_params(axis='y', length=0, labelsize=TICK_FS, pad=20)
ax3b.tick_params(axis='y', length=0, labelsize=TICK_FS, pad=20)
ax3.tick_params(axis='x', colors=GRID_GREY, labelcolor='black', labelsize=TICK_FS, length=6, width=2.5, pad=5)
h3 = [Line2D([], [], color=BLUE, lw=6.5), Line2D([], [], color=OLIVE, lw=6.5)]
ax3.legend(h3, ['1y fwd EPS', '1y fwd PE'], bbox_to_anchor=(615 / W, 1 - 1514 / H), ncol=2,
           handlelength=3.0, handletextpad=0.38, columnspacing=1.45, **leg_kw)

# ---- Fig 29 ----
ax4 = fig.add_axes(box(1312, 1033, 2288, 1370))
for series, name, col in zip([alpha, ete, eurob, tpeir, sx7p], bank_names, bank_colors):
    d, v = zip(*series)
    ax4.plot(to_dates('2022-03-01', d), v, color=col, lw=4.8, label=name)
ax4.set_ylim(0, 280)
ax4.set_yticks(np.arange(0, 281, 40))
ticks29 = np.array([np.datetime64('2022-03') + np.timedelta64(k, 'M') for k in range(len(month_labels_29))],
                   dtype='datetime64[D]')
ax4.set_xticks(ticks29)
ax4.set_xticklabels(month_labels_29, rotation=90)
ax4.set_xlim(np.datetime64('2022-03-01'), np.datetime64('2022-03-01') + np.timedelta64(477, 'D'))
ax4.grid(axis='y', color=GRID_GREY, lw=2.5)
ax4.set_axisbelow(True)
for s in ['top', 'right']:
    ax4.spines[s].set_visible(False)
ax4.spines['left'].set_color(AXIS_GREY)
ax4.spines['left'].set_linewidth(2)
ax4.spines['bottom'].set_color(GRID_GREY)
ax4.spines['bottom'].set_linewidth(2.5)
ax4.tick_params(axis='y', colors=AXIS_GREY, labelcolor='black', labelsize=TICK_FS, length=6, width=2, pad=9)
ax4.tick_params(axis='x', colors=GRID_GREY, labelcolor='black', labelsize=TICK_FS, length=6, width=2.5, pad=5)
ax4.legend(bbox_to_anchor=(1758 / W, 1 - 1514 / H), ncol=5, handlelength=3.0, handletextpad=0.38,
           columnspacing=0.82, **leg_kw)
for ln in ax4.get_legend().get_lines():
    ln.set_linewidth(6.5)

fig.savefig('out.png', dpi=100)
